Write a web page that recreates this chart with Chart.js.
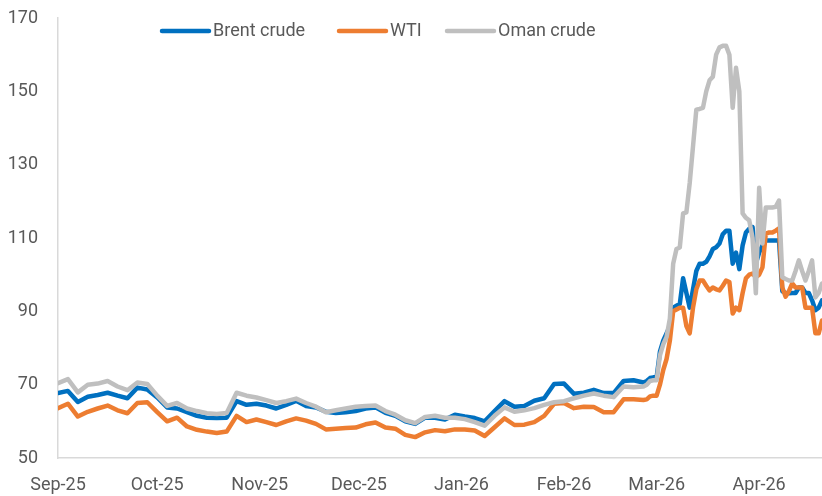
<!DOCTYPE html>
<html lang="en">
<head>
    <meta charset="utf-8" />
    <title>Brent, WTI and Oman crude prices</title>
    <script src="https://cdn.jsdelivr.net/npm/chart.js"></script>
    <style>
        html, body { margin: 0; padding: 0; background: #fff; }
        #wrap { width: 822px; height: 496px; }
    </style>
</head>
<body>
    <div id="wrap"><canvas id="myChart"></canvas></div>
    <script>
        // Days counted from 1 Sep 2025 (every 3 days until end Feb, then daily)
        var days = [
            0, 3, 6, 9, 12, 15, 18, 21, 24, 27, 30, 33, 36, 39, 42, 45, 48, 51, 54, 57,
            60, 63, 66, 69, 72, 75, 78, 81, 84, 87, 90, 93, 96, 99, 102, 105, 108, 111, 114, 117,
            120, 123, 126, 129, 132, 135, 138, 141, 144, 147, 150, 153, 156, 159, 162, 165, 168, 171, 174, 177,
            178, 179, 180, 181, 182, 183, 184, 185, 186, 187, 188, 189, 190, 191, 192, 193, 194, 195, 196, 197,
            198, 199, 200, 201, 202, 203, 204, 205, 206, 207, 208, 209, 210, 211, 212, 213, 214, 215, 216, 217,
            218, 219, 220, 221, 222, 223, 224, 225, 226, 227, 228, 229, 230, 231
        ];

        var brent = [
            67.7, 68.3, 65.3, 66.7, 67.2, 67.8, 67.0, 66.3, 69.2, 68.7, 66.5, 63.8, 63.5, 62.5, 61.5, 61.0, 60.9, 61.0, 65.5, 64.5,
            64.8, 64.3, 63.5, 64.5, 65.6, 64.2, 63.8, 62.6, 62.3, 62.5, 62.8, 63.5, 63.8, 62.3, 61.5, 60.0, 59.3, 61.0, 61.0, 60.5,
            61.8, 61.3, 60.9, 60.0, 62.8, 65.5, 64.0, 64.2, 65.6, 66.3, 70.2, 70.3, 67.5, 67.8, 68.6, 67.7, 67.7, 71.0, 71.2, 70.6,
            71, 71.8, 72, 72, 79, 82, 84, 86, 91, 91.5, 92, 99, 95, 91, 96, 101, 103, 103, 103.5, 105,
            107, 107.5, 108.5, 111, 112, 112, 103, 106, 101.5, 108, 111.5, 112.5, 113, 103, 106, 108, 109.3, 109.3, 109.3, 109.3,
            109.3, 95.5, 95, 94.9, 95, 95, 96.5, 96.5, 95, 95, 93, 90.3, 91, 93
        ];

        var wti = [
            63.6, 64.8, 61.3, 62.6, 63.5, 64.3, 63.0, 62.2, 65.0, 65.2, 62.5, 60.0, 61.0, 58.6, 57.7, 57.2, 56.8, 57.2, 61.5, 59.8,
            60.5, 59.8, 59.0, 60.0, 60.8, 60.2, 59.3, 57.8, 58.0, 58.2, 58.3, 59.2, 59.7, 58.3, 58.0, 56.3, 55.7, 57.0, 57.6, 57.3,
            57.8, 57.8, 57.5, 56.0, 58.4, 60.8, 59.0, 59.1, 59.8, 61.5, 64.8, 65.0, 63.6, 64.0, 63.9, 62.5, 62.5, 66.0, 66.0, 65.8,
            66, 66.8, 67, 67, 70, 74, 77, 82, 90, 90.5, 91, 91, 86, 84, 91, 96, 98.4, 98.4, 97, 95.7,
            96.5, 96, 95.7, 97, 98.4, 98, 89.4, 91, 90.3, 95, 99, 100, 100.3, 99.3, 100, 102, 111.2, 111.5, 111.5, 112,
            112.6, 96.5, 94, 95.5, 97.6, 96.5, 96.5, 96.5, 91, 91, 91, 84, 84, 87.5
        ];

        var oman = [
            70.4, 71.5, 67.9, 70.0, 70.3, 71.0, 69.5, 68.5, 70.6, 70.2, 67.0, 64.2, 65.0, 63.5, 62.8, 62.2, 62.0, 62.3, 67.8, 67.0,
            66.5, 65.8, 65.0, 65.5, 66.2, 65.0, 64.0, 62.5, 63.0, 63.5, 64.0, 64.2, 64.3, 62.8, 61.8, 60.3, 59.5, 61.2, 61.5, 61.0,
            61.0, 60.6, 59.8, 58.8, 61.5, 63.8, 62.6, 63.0, 63.6, 64.5, 65.2, 65.5, 66.3, 67.0, 67.6, 67.0, 66.6, 69.5, 69.3, 69.5,
            70, 71, 71.2, 71.2, 78, 81, 83, 88, 103, 107, 107.4, 116.7, 117, 125, 135, 145, 145.2, 145.5, 150, 153,
            154, 160, 162, 162.4, 162.4, 160, 145.5, 156.4, 150, 116.7, 115.5, 114.8, 110, 94.9, 123.7, 108.5, 118.3, 118.3, 118.3, 118.5,
            120.2, 99.3, 98.8, 98.4, 98.4, 101, 103.9, 101, 98.4, 101, 103.9, 93.8, 95, 97.6
        ];

        // Month ticks on the x axis
        var monthStarts = [0, 30, 61, 91, 122, 153, 181, 212];
        var monthLabels = ['Sep-25', 'Oct-25', 'Nov-25', 'Dec-25', 'Jan-26', 'Feb-26', 'Mar-26', 'Apr-26'];

        function toPoints(values) {
            return values.map(function (v, i) { return { x: days[i], y: v }; });
        }

        var textColor = '#595959';
        var axisColor = '#D9D9D9';
        var fontFamily = 'Roboto, "Liberation Sans", sans-serif';
        Chart.defaults.font.family = fontFamily;
        Chart.defaults.font.size = 18;
        Chart.defaults.color = textColor;

        // Legend drawn inside the plot, like the spreadsheet chart
        var legendLeft = [160, 337, 445];
        var topLegend = {
            id: 'topLegend',
            afterDraw: function (chart) {
                var ctx = chart.ctx;
                var y = 31;
                ctx.save();
                ctx.font = '18px ' + fontFamily;
                ctx.textBaseline = 'middle';
                chart.data.datasets.forEach(function (ds, i) {
                    var x = legendLeft[i];
                    ctx.strokeStyle = ds.borderColor;
                    ctx.lineWidth = 4.5;
                    ctx.lineCap = 'round';
                    ctx.beginPath();
                    ctx.moveTo(x + 2, y);
                    ctx.lineTo(x + 49, y);
                    ctx.stroke();
                    ctx.fillStyle = textColor;
                    ctx.fillText(ds.label, x + 53, y);
                });
                ctx.restore();
            }
        };

        var ctx = document.getElementById('myChart').getContext('2d');
        new Chart(ctx, {
            type: 'line',
            data: {
                datasets: [
                    { label: 'Brent crude', data: toPoints(brent), borderColor: '#0070C0', order: 3 },
                    { label: 'WTI', data: toPoints(wti), borderColor: '#ED7D31', order: 2 },
                    { label: 'Oman crude', data: toPoints(oman), borderColor: '#BFBFBF', order: 1 }
                ]
            },
            options: {
                responsive: true,
                maintainAspectRatio: false,
                animation: false,
                layout: { padding: { top: 18, right: 0, left: 0, bottom: 0 } },
                elements: {
                    line: { borderWidth: 4.5, tension: 0, borderJoinStyle: 'round', borderCapStyle: 'round' },
                    point: { radius: 0 }
                },
                plugins: {
                    legend: { display: false },
                    tooltip: { enabled: false }
                },
                scales: {
                    x: {
                        type: 'linear',
                        min: 0,
                        max: 231,
                        grid: { display: false, drawTicks: false },
                        border: { display: true, color: axisColor, width: 1.5 },
                        afterBuildTicks: function (axis) {
                            axis.ticks = monthStarts.map(function (v) { return { value: v }; });
                        },
                        afterFit: function (axis) { axis.height = 38; },
                        ticks: {
                            autoSkip: false,
                            maxRotation: 0,
                            padding: 17,
                            callback: function (value) { return monthLabels[monthStarts.indexOf(value)]; }
                        }
                    },
                    y: {
                        min: 50,
                        max: 170,
                        grid: { display: false, drawTicks: true, tickLength: 20 },
                        border: { display: true, color: axisColor, width: 1.5 },
                        afterFit: function (axis) { axis.width = 58; },
                        ticks: { stepSize: 20, padding: 0 }
                    }
                }
            },
            plugins: [topLegend]
        });
    </script>
</body>
</html>
